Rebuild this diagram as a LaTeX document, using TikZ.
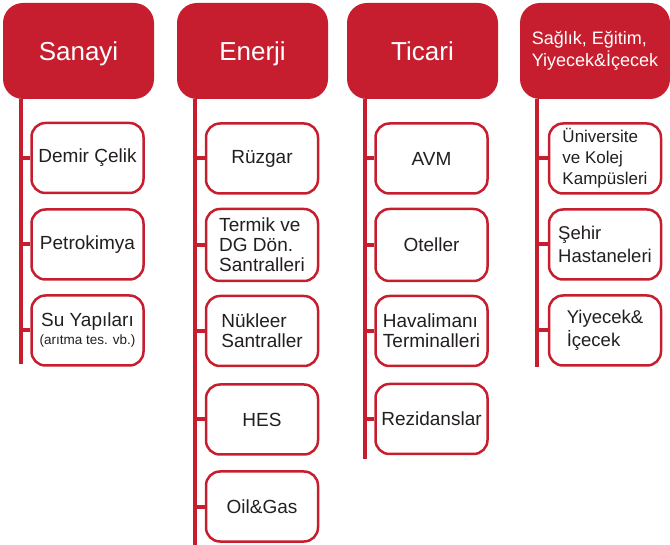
\documentclass[tikz,border=0pt]{standalone}
\usepackage{fontspec}
\setmainfont{Liberation Sans}
\definecolor{hred}{HTML}{C61E2E}
\definecolor{txt}{HTML}{231F20}
\newcommand{\hdtxt}[1]{\raisebox{-10pt}[0pt][0pt]{#1}}
\begin{document}
\begin{tikzpicture}[x=1pt,y=-1pt,
  header/.style={fill=hred,draw=none,rounded corners=20pt,minimum width=151pt,minimum height=96pt,
    text=white,font=\fontsize{26}{28}\selectfont,align=left,inner sep=0pt},
  child/.style={draw=hred,line width=2.5pt,fill=white,rounded corners=14pt,minimum width=112pt,
    minimum height=70pt,text=txt,font=\fontsize{19}{20}\selectfont,align=left,inner sep=0pt},
  trunk/.style={draw=hred,line width=4pt}]
\useasboundingbox (0,0) rectangle (670,545);
% headers
\node[header] (h1) at (78.5,51) {\hdtxt{Sanayi}};
\node[header] (h2) at (252.5,51) {\hdtxt{Enerji}};
\node[header] (h3) at (422.5,51) {\hdtxt{Ticari}};
\node[header,minimum width=150pt,font=\fontsize{18}{21.5}\selectfont] (h4) at (595,51) {Sağlık, Eğitim,\\Yiyecek\&İçecek};
% trunk ends
\coordinate (e1) at (21,364);
\coordinate (e2) at (194.5,545);
\coordinate (e3) at (365,459);
\coordinate (e4) at (537,367);
\draw[trunk] (h1.south -| e1) -- (e1);
\draw[trunk] (h2.south -| e2) -- (e2);
\draw[trunk] (h3.south -| e3) -- (e3);
\draw[trunk] (h4.south -| e4) -- (e4);
% Sanayi
\node[child] (a1) at (87.5,158) {Demir Çelik};
\node[child] (a2) at (87.5,244.5) {Petrokimya};
\node[child,align=center] (a3) at (87.5,330.5) {Su Yapıları\\[-2pt]{\fontsize{13.5}{15}\selectfont (arıtma tes. vb.)}};
% Enerji
\node[child] (b1) at (262,158.5) {Rüzgar};
\node[child,minimum height=72pt] (b2) at (262,245) {Termik ve\\DG Dön.\\Santralleri};
\node[child] (b3) at (262,331) {Nükleer\\Santraller};
\node[child] (b4) at (262,419.5) {HES};
\node[child] (b5) at (262,506.5) {Oil\&Gas};
% Ticari
\node[child] (c1) at (431.5,158.5) {AVM};
\node[child,minimum height=72pt] (c2) at (431.5,245) {Oteller};
\node[child] (c3) at (431.5,331) {Havalimanı\\Terminalleri};
\node[child] (c4) at (431.5,419) {Rezidanslar};
% Saglik
\node[child,font=\fontsize{17}{21}\selectfont] (d1) at (605,158.5) {Üniversite\\ve Kolej\\Kampüsleri};
\node[child,font=\fontsize{18.5}{23}\selectfont] (d2) at (605,244.5) {Şehir\\Hastaneleri};
\node[child,font=\fontsize{18.5}{23}\selectfont] (d3) at (605,330.5) {Yiyecek\&\\İçecek};
% stubs
\foreach \n/\e in {a1/e1,a2/e1,a3/e1,b1/e2,b2/e2,b3/e2,b4/e2,b5/e2,c1/e3,c2/e3,c3/e3,c4/e3,d1/e4,d2/e4,d3/e4}
  \draw[trunk] (\n.west -| \e) -- (\n.west);
\end{tikzpicture}
\end{document}
